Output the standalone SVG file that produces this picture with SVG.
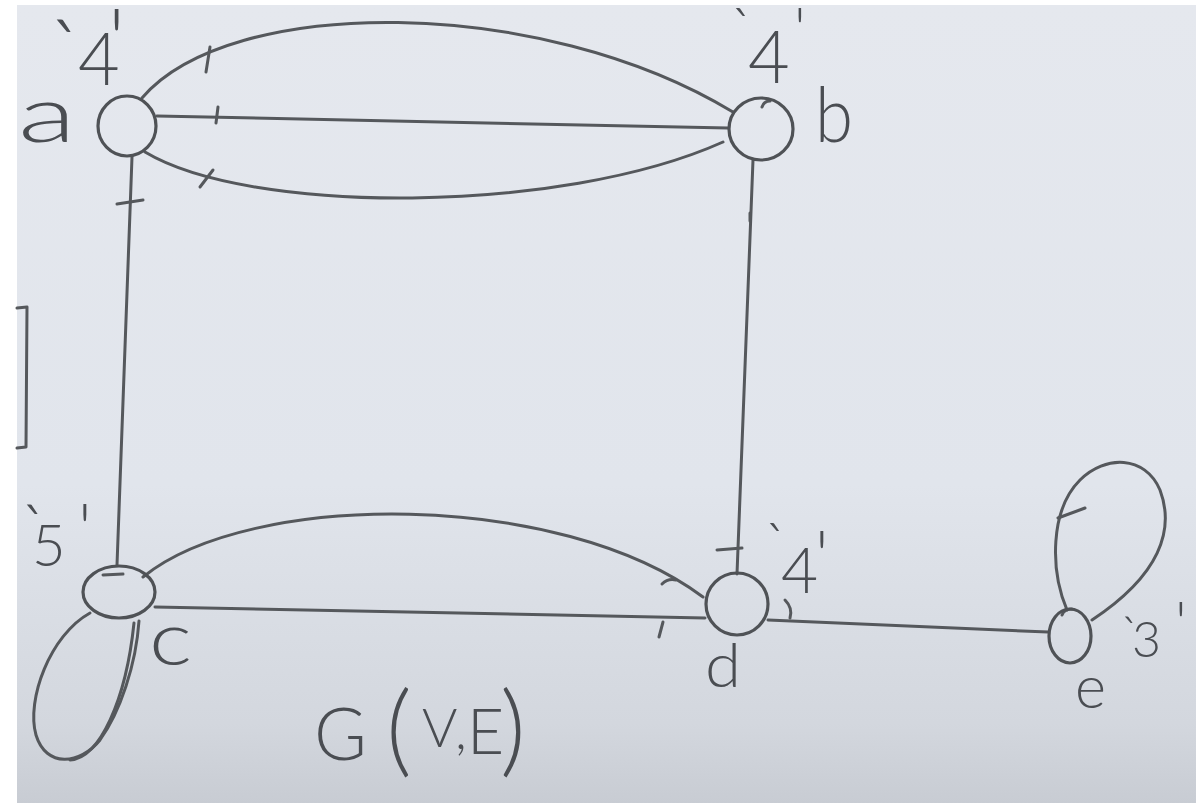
<svg xmlns="http://www.w3.org/2000/svg" width="1196" height="803" viewBox="0 0 1196 803">
<defs>
<linearGradient id="bg" x1="0" y1="0" x2="0" y2="1">
<stop offset="0" stop-color="#e5e8ee"/>
<stop offset="0.6" stop-color="#e1e5ec"/>
<stop offset="0.9" stop-color="#d3d7de"/>
<stop offset="1" stop-color="#c8ccd3"/>
</linearGradient>
<style>
.ln{fill:none;stroke:#55585c;stroke-width:3;stroke-linecap:round;stroke-linejoin:round}
.nd{fill:none;stroke:#4f5256;stroke-width:3.2}
.tx{font-family:Lato,"Open Sans","Liberation Sans",sans-serif;font-weight:300;fill:#4a4d52}
</style>
</defs>
<rect x="0" y="0" width="1196" height="803" fill="#ffffff"/>
<rect x="17" y="5" width="1179" height="798" fill="url(#bg)"/>
<path class="ln" d="M17,308 L27,307 L26,447 L17,448"/>

<g id="connectors">
<path class="ln" d="M142,98 C230,-5 540,-5 733,112"/>
<path class="ln" d="M157,116 L728,128"/>
<path class="ln" d="M145,152 C250,215 560,215 723,142"/>
<path class="ln" d="M132,157 L117,565"/>
<path class="ln" d="M753,160 L737,574"/>
<path class="ln" d="M143,577 C250,490 560,490 703,597"/>
<path class="ln" d="M155,607 L705,618"/>
<path class="ln" d="M768,620 L1048,632"/>
<path class="ln" d="M90,613 C50,635 26,700 36,735 C46,768 80,765 100,740 C120,712 136,665 139,621"/>
<path class="ln" d="M70,760 C100,758 126,700 134,623"/>
<path class="ln" d="M1067,610 C1050,570 1050,510 1080,480 C1105,455 1145,455 1160,490 C1175,530 1160,575 1092,620"/>
<g id="ticks">
<path class="ln" d="M210,47 L206,72"/>
<path class="ln" d="M218,107 L216,123"/>
<path class="ln" d="M213,170 L200,187"/>
<path class="ln" d="M117,204 L143,200"/>
<path class="ln" d="M750,213 L750,221"/>
<path class="ln" d="M762,107 Q764,101 770,101"/>
<path class="ln" d="M717,550 L742,548"/>
<path class="ln" d="M662,584 Q668,578 676,580"/>
<path class="ln" d="M659,637 L663,622"/>
<path class="ln" d="M785,600 Q793,608 790,618"/>
<path class="ln" d="M1058,518 L1085,508"/>
<path class="ln" d="M103,575 L123,574"/>
<path class="ln" d="M1062,615 Q1064,609 1072,609"/>
</g>
</g>

<g id="node-a">
<ellipse class="nd" cx="127" cy="126" rx="29" ry="30"/>
<text class="tx" x="18" y="142" font-size="78" textLength="58" lengthAdjust="spacingAndGlyphs">a</text>
<text class="tx" font-size="72"><tspan x="48" y="85" font-size="90">`</tspan><tspan x="78" y="85">4</tspan><tspan x="108" y="72" font-size="88">'</tspan></text>
</g>
<g id="node-b">
<ellipse class="nd" cx="761" cy="129" rx="32" ry="31"/>
<text class="tx" x="815" y="142" font-size="76" textLength="38" lengthAdjust="spacingAndGlyphs">b</text>
<text class="tx" font-size="72"><tspan x="730" y="50" font-size="60">`</tspan><tspan x="748" y="83">4</tspan><tspan x="794" y="50" font-size="60">'</tspan></text>
</g>
<g id="node-c">
<ellipse class="nd" cx="119" cy="592" rx="36" ry="26"/>
<text class="tx" x="149" y="665" font-size="74" textLength="43" lengthAdjust="spacingAndGlyphs">c</text>
<text class="tx" font-size="58"><tspan x="20" y="555" font-size="70">`</tspan><tspan x="32" y="566">5</tspan><tspan x="78" y="554" font-size="70">'</tspan></text>
</g>
<g id="node-d">
<ellipse class="nd" cx="737" cy="604" rx="31" ry="31"/>
<text class="tx" x="705" y="687" font-size="62" textLength="36" lengthAdjust="spacingAndGlyphs">d</text>
<text class="tx" font-size="64"><tspan x="764" y="565" font-size="60">`</tspan><tspan x="781" y="593">4</tspan><tspan x="815" y="581" font-size="70">'</tspan></text>
</g>
<g id="node-e">
<ellipse class="nd" cx="1070" cy="636" rx="21" ry="27"/>
<text class="tx" x="1075" y="708" font-size="60" textLength="31" lengthAdjust="spacingAndGlyphs">e</text>
<text class="tx" font-size="50"><tspan x="1120" y="652" font-size="50">`</tspan><tspan x="1132" y="657">3</tspan><tspan x="1175" y="644" font-size="60">'</tspan></text>
</g>

<g id="title">
<text class="tx"><tspan x="314" y="760" font-size="72">G</tspan><tspan x="386" y="764" font-size="100">(</tspan><tspan x="422" y="747" font-size="54">V</tspan><tspan x="455" y="749" font-size="54">,</tspan><tspan x="467" y="754" font-size="64">E</tspan><tspan x="500" y="764" font-size="100">)</tspan></text>
</g>
</svg>
